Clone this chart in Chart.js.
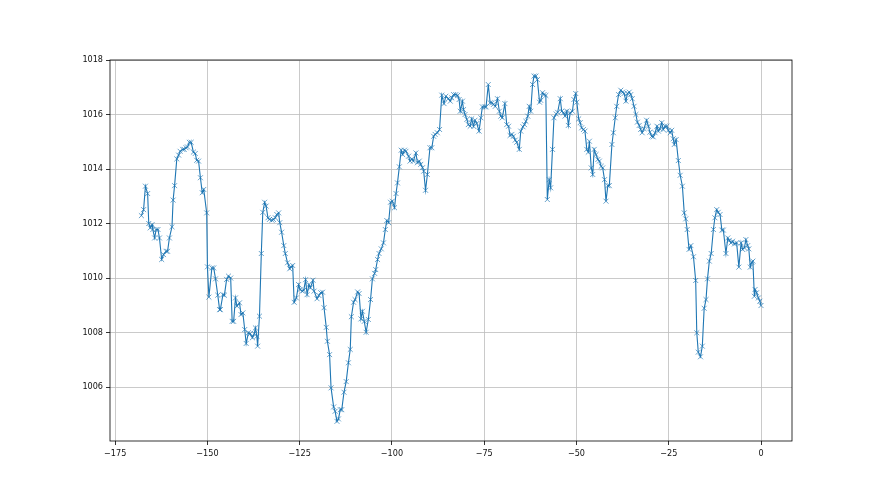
<!DOCTYPE html>
<html>
<head>
<meta charset="utf-8">
<script src="https://cdn.jsdelivr.net/npm/chart.js@4"></script>
<style>
  body { margin: 0; background: #fff; }
  canvas { display: block; }
</style>
</head>
<body>
<canvas id="chart" width="880" height="495"></canvas>
<script>
// hours before now
const hours = [
  -167.9, -167.3, -166.8, -166.2, -165.9, -165.5, -165.0, -164.8, -164.3, -163.9,
  -163.4, -163.0, -162.4, -161.9, -161.2, -160.8, -160.3, -159.6, -159.3, -158.9,
  -158.3, -157.8, -157.4, -156.7, -156.3, -155.8, -155.4, -154.9, -154.4, -153.8,
  -153.3, -152.9, -152.4, -151.9, -151.4, -151.0, -150.2, -150.0, -149.6, -148.8,
  -148.3, -147.8, -147.2, -146.7, -146.5, -145.8, -145.4, -144.8, -144.3, -143.7,
  -143.3, -142.9, -142.4, -142.0, -141.3, -140.9, -140.4, -139.9, -139.5, -138.9,
  -138.4, -137.8, -137.3, -137.0, -136.6, -136.4, -135.9, -135.4, -135.0, -134.5,
  -134.1, -133.6, -133.2, -132.5, -132.1, -131.6, -131.2, -130.7, -130.4, -129.9,
  -129.3, -128.9, -128.3, -127.7, -127.4, -126.9, -126.5, -125.9, -125.3, -124.9,
  -124.3, -123.9, -123.4, -123.0, -122.5, -122.1, -121.4, -121.1, -120.3, -119.8,
  -119.3, -118.8, -118.4, -117.8, -117.5, -116.9, -116.5, -115.8, -115.4, -114.9,
  -114.5, -114.0, -113.6, -113.0, -112.4, -111.8, -111.3, -111.0, -110.4, -110.0,
  -109.3, -108.9, -108.4, -108.0, -107.5, -107.0, -106.4, -105.8, -105.3, -104.7,
  -104.4, -103.9, -103.5, -102.9, -102.3, -101.8, -101.4, -100.9, -100.4, -99.9,
  -99.3, -98.9, -98.5, -98.0, -97.5, -97.1, -96.6, -96.2, -95.5, -95.1,
  -94.6, -94.2, -93.5, -93.1, -92.6, -92.2, -91.7, -91.4, -90.9, -90.4,
  -89.7, -89.2, -88.7, -88.3, -87.7, -87.1, -86.5, -85.9, -85.4, -84.7,
  -84.2, -83.8, -83.3, -82.7, -82.2, -81.8, -81.5, -80.9, -80.6, -80.2,
  -79.7, -79.3, -78.8, -78.4, -77.9, -77.5, -77.0, -76.4, -75.9, -75.5,
  -74.9, -74.5, -73.9, -73.4, -72.9, -72.5, -72.0, -71.4, -70.9, -70.5,
  -70.1, -69.4, -68.9, -68.4, -68.0, -67.5, -67.1, -66.6, -66.2, -65.5,
  -65.1, -64.5, -64.1, -63.7, -63.2, -62.8, -62.4, -61.9, -61.5, -61.0,
  -60.6, -60.0, -59.7, -59.2, -58.8, -58.3, -57.9, -57.4, -57.0, -56.5,
  -56.1, -55.5, -55.1, -54.4, -54.0, -53.5, -53.1, -52.6, -52.2, -51.7,
  -51.1, -50.7, -50.2, -49.9, -49.4, -49.0, -48.6, -48.1, -47.7, -47.2,
  -46.8, -46.5, -46.0, -45.6, -45.2, -44.7, -44.2, -43.8, -43.3, -42.9,
  -42.4, -42.0, -41.5, -41.1, -40.4, -40.0, -39.5, -39.1, -38.6, -38.0,
  -37.5, -37.1, -36.6, -36.2, -35.7, -35.3, -34.9, -34.4, -33.9, -33.5,
  -33.0, -32.6, -32.2, -31.7, -31.0, -30.5, -30.1, -29.6, -29.2, -28.7,
  -28.2, -27.8, -27.4, -26.9, -26.5, -26.0, -25.5, -25.1, -24.6, -24.2,
  -23.8, -23.5, -23.0, -22.4, -21.9, -21.3, -20.8, -20.4, -20.0, -19.5,
  -19.0, -18.3, -17.7, -17.4, -17.0, -16.4, -15.9, -15.4, -14.9, -14.5,
  -14.0, -13.5, -12.9, -12.5, -12.0, -11.6, -11.1, -10.6, -10.2, -9.5,
  -9.0, -8.6, -8.1, -7.7, -7.2, -6.6, -6.0, -5.4, -5.0, -4.5,
  -4.1, -3.6, -3.3, -2.9, -2.5, -2.2, -1.8, -1.6, -1.2, -0.7,
  -0.3, 0.0
];

// pressure readings
const pressure = [
  1012.29, 1012.51, 1013.37, 1013.10, 1012.00, 1011.84, 1011.96, 1011.78, 1011.47, 1011.78,
  1011.78, 1011.47, 1010.68, 1010.86, 1010.98, 1010.98, 1011.47, 1011.88, 1012.86, 1013.39,
  1014.37, 1014.51, 1014.65, 1014.72, 1014.72, 1014.78, 1014.81, 1014.98, 1014.98, 1014.62,
  1014.57, 1014.32, 1014.29, 1013.68, 1013.13, 1013.25, 1012.39, 1010.41, 1009.30, 1010.37,
  1010.37, 1009.97, 1009.37, 1008.84, 1008.84, 1009.39, 1009.37, 1009.95, 1010.07, 1010.00,
  1008.41, 1008.41, 1009.27, 1008.97, 1009.09, 1008.66, 1008.72, 1008.11, 1007.60, 1007.99,
  1007.96, 1007.81, 1007.96, 1008.17, 1007.86, 1007.50, 1008.60, 1010.90, 1012.41, 1012.78,
  1012.64, 1012.21, 1012.15, 1012.12, 1012.15, 1012.21, 1012.33, 1012.39, 1012.03, 1011.68,
  1011.19, 1010.90, 1010.56, 1010.34, 1010.41, 1010.46, 1009.11, 1009.27, 1009.76, 1009.58,
  1009.52, 1009.55, 1009.94, 1009.39, 1009.76, 1009.64, 1009.92, 1009.52, 1009.24, 1009.36,
  1009.46, 1009.48, 1008.91, 1008.19, 1007.68, 1007.19, 1005.97, 1005.27, 1005.11, 1004.74,
  1004.83, 1005.17, 1005.17, 1005.81, 1006.20, 1006.89, 1007.38, 1008.58, 1009.11, 1009.21,
  1009.49, 1009.43, 1008.50, 1008.78, 1008.41, 1008.01, 1008.48, 1009.21, 1009.97, 1010.17,
  1010.31, 1010.68, 1010.90, 1011.07, 1011.29, 1011.78, 1012.11, 1012.03, 1012.78, 1012.82,
  1012.58, 1013.10, 1013.49, 1014.08, 1014.69, 1014.53, 1014.69, 1014.65, 1014.47, 1014.29,
  1014.37, 1014.29, 1014.59, 1014.23, 1014.29, 1014.17, 1014.05, 1013.92, 1013.22, 1013.80,
  1014.78, 1014.78, 1015.20, 1015.27, 1015.33, 1015.45, 1016.71, 1016.40, 1016.67, 1016.58,
  1016.49, 1016.61, 1016.73, 1016.73, 1016.70, 1016.55, 1016.12, 1016.49, 1016.18, 1016.00,
  1015.82, 1015.63, 1015.57, 1015.84, 1015.57, 1015.79, 1015.67, 1015.39, 1015.88, 1016.28,
  1016.28, 1016.28, 1017.10, 1016.43, 1016.43, 1016.37, 1016.30, 1016.58, 1016.12, 1015.94,
  1015.88, 1016.40, 1015.63, 1015.57, 1015.23, 1015.27, 1015.20, 1015.06, 1014.98, 1014.72,
  1015.39, 1015.55, 1015.63, 1015.75, 1015.94, 1016.30, 1016.12, 1017.10, 1017.41, 1017.41,
  1017.28, 1016.45, 1016.52, 1016.80, 1016.73, 1016.70, 1012.88, 1013.61, 1013.31, 1014.72,
  1015.88, 1016.02, 1016.08, 1016.58, 1016.12, 1016.06, 1015.94, 1016.12, 1015.60, 1016.06,
  1016.12, 1016.55, 1016.77, 1016.45, 1015.84, 1015.70, 1015.51, 1015.45, 1015.39, 1014.72,
  1014.62, 1015.02, 1014.04, 1013.80, 1014.72, 1014.53, 1014.35, 1014.29, 1014.10, 1014.04,
  1013.61, 1012.82, 1013.39, 1013.39, 1014.90, 1015.33, 1015.88, 1016.30, 1016.73, 1016.89,
  1016.82, 1016.77, 1016.49, 1016.77, 1016.82, 1016.73, 1016.58, 1016.30, 1016.00, 1015.72,
  1015.60, 1015.45, 1015.33, 1015.48, 1015.79, 1015.57, 1015.35, 1015.20, 1015.18, 1015.33,
  1015.57, 1015.39, 1015.48, 1015.70, 1015.45, 1015.57, 1015.57, 1015.42, 1015.33, 1015.42,
  1015.11, 1014.90, 1015.08, 1014.31, 1013.77, 1013.37, 1012.39, 1012.17, 1011.78, 1011.05,
  1011.19, 1010.78, 1009.91, 1007.99, 1007.28, 1007.11, 1007.50, 1008.89, 1009.21, 1009.97,
  1010.62, 1010.90, 1011.78, 1012.21, 1012.51, 1012.41, 1012.33, 1011.76, 1011.76, 1010.90,
  1011.47, 1011.38, 1011.29, 1011.35, 1011.25, 1011.29, 1010.40, 1011.29, 1011.05, 1011.11,
  1011.41, 1011.19, 1011.07, 1010.40, 1010.58, 1010.62, 1009.33, 1009.58, 1009.46, 1009.27,
  1009.15, 1008.99
];

const xTicks = [-175, -150, -125, -100, -75, -50, -25, 0];
const yTicks = [1006, 1008, 1010, 1012, 1014, 1016, 1018];

const points = hours.map((h, i) => ({ x: h, y: pressure[i] }));

// matplotlib style box around the plot area
const frame = {
  id: "frame",
  afterDraw(chart) {
    const { ctx, chartArea: a } = chart;
    ctx.save();
    ctx.strokeStyle = "#000";
    ctx.lineWidth = 0.8;
    ctx.strokeRect(a.left, a.top, a.right - a.left, a.bottom - a.top);
    ctx.restore();
  },
};

const tickFont = { family: "'DejaVu Sans Condensed', 'Liberation Sans Narrow', 'DejaVu Sans', sans-serif", size: 9 };

new Chart(document.getElementById("chart"), {
  type: "line",
  data: {
    datasets: [
      {
        data: points,
        borderColor: "#1f77b4",
        backgroundColor: "#1f77b4",
        borderWidth: 1.1,
        pointStyle: "crossRot",
        pointRadius: 3.5,
        pointBorderWidth: 0.8,
        pointBorderColor: "rgba(31,119,180,0.85)",
        tension: 0,
        fill: false,
      },
    ],
  },
  options: {
    responsive: false,
    animation: false,
    events: [],
    layout: { padding: { left: 0, top: 60, right: 88, bottom: 0 } },
    plugins: { legend: { display: false }, tooltip: { enabled: false } },
    scales: {
      x: {
        type: "linear",
        min: -176.4,
        max: 8.4,
        afterFit: (s) => { s.height = 54; },
        afterBuildTicks: (s) => { s.ticks = xTicks.map((v) => ({ value: v })); },
        border: { display: false },
        grid: { color: "#bdbdbd", lineWidth: 0.8, tickLength: 4, tickColor: "#000", tickWidth: 0.8 },
        ticks: {
          font: tickFont,
          color: "#111",
          padding: 3,
          maxRotation: 0,
          callback: (v) => String(v).replace("-", "\u2212"),
        },
      },
      y: {
        type: "linear",
        min: 1004.02,
        max: 1018.0,
        afterFit: (s) => { s.width = 110; },
        afterBuildTicks: (s) => { s.ticks = yTicks.map((v) => ({ value: v })); },
        border: { display: false },
        grid: { color: "#bdbdbd", lineWidth: 0.8, tickLength: 4, tickColor: "#000", tickWidth: 0.8 },
        ticks: { font: tickFont, color: "#111", padding: 3, callback: (v) => String(v) },
      },
    },
  },
  plugins: [frame],
});
</script>
</body>
</html>
